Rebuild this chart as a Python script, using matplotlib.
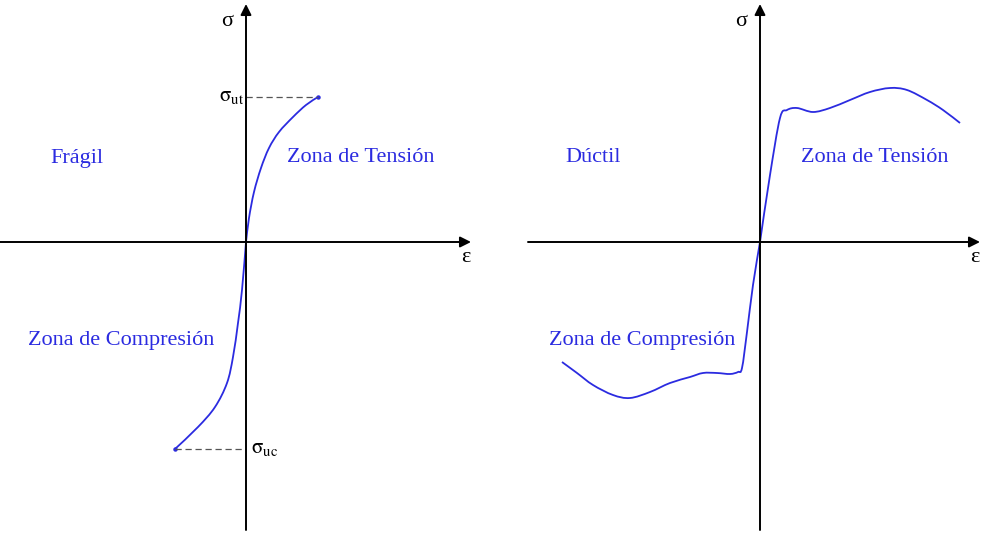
import numpy as np
import matplotlib.pyplot as plt
from matplotlib.path import Path
from matplotlib.patches import PathPatch

plt.rcParams['font.family'] = ['Liberation Serif', 'DejaVu Serif']
plt.rcParams['mathtext.fontset'] = 'stix'

# ==========================================
# Data (strain, stress)
# ==========================================
# Fragil material
frag_ten_eps = [0.0, 0.03, 0.08, 0.15, 0.23, 0.33, 0.47, 0.60, 0.72]
frag_ten_sig = [0.0, 0.24, 0.50, 0.74, 0.94, 1.10, 1.25, 1.37, 1.45]
frag_com_eps = [0.0, -0.04, -0.08, -0.13, -0.19, -0.31, -0.48, -0.71]
frag_com_sig = [0.0, -0.48, -0.81, -1.15, -1.41, -1.65, -1.85, -2.07]
sigma_ut = 1.45
sigma_uc = -2.07

# Ductil material
duct_ten_eps = [0.0, 0.10, 0.20, 0.27, 0.37, 0.53, 0.70, 0.90, 1.10, 1.30,
                1.47, 1.67, 1.83, 2.00]
duct_ten_sig = [0.0, 0.67, 1.24, 1.32, 1.34, 1.30, 1.34, 1.42, 1.50, 1.54,
                1.52, 1.42, 1.32, 1.19]
duct_com_eps = [0.0, -0.07, -0.13, -0.18, -0.22, -0.30, -0.43, -0.57, -0.70,
                -0.90, -1.10, -1.30, -1.47, -1.67, -1.83, -1.98]
duct_com_sig = [0.0, -0.43, -0.90, -1.26, -1.30, -1.32, -1.31, -1.31, -1.35,
                -1.41, -1.50, -1.56, -1.53, -1.43, -1.31, -1.20]

blue = '#2b2be0'
fs = 16

fig = plt.figure(figsize=(9.95, 5.34), dpi=100)
ax1 = fig.add_axes([0, 0, 490 / 995, 1])
ax2 = fig.add_axes([520 / 995, 0, 475 / 995, 1])


def smooth_curve(ax, xs, ys, **kw):
    # Catmull-Rom through the read points, drawn as cubic Bezier path
    p = np.column_stack([xs, ys])
    verts = [p[0]]
    codes = [Path.MOVETO]
    for i in range(len(p) - 1):
        p0 = p[i - 1] if i > 0 else p[i]
        p3 = p[i + 2] if i + 2 < len(p) else p[i + 1]
        c1 = p[i] + (p[i + 1] - p0) / 6
        c2 = p[i + 1] - (p3 - p[i]) / 6
        verts += [c1, c2, p[i + 1]]
        codes += [Path.CURVE4] * 3
    ax.add_patch(PathPatch(Path(verts, codes), fill=False, **kw))


def draw_axes(ax, xlim, x_end, x_start):
    ax.set_xlim(*xlim)
    ax.set_ylim(-2.92, 2.42)
    ax.axis('off')
    arrow = dict(arrowstyle='-|>', color='black', lw=1.4,
                 mutation_scale=16, shrinkA=0, shrinkB=0)
    ax.annotate('', xy=(x_end, 0), xytext=(x_start, 0), arrowprops=arrow)
    ax.annotate('', xy=(0, 2.38), xytext=(0, -2.88), arrowprops=arrow)
    ax.text(-0.13, 2.20, 'σ', fontsize=fs, ha='right', va='center')
    ax.text(x_end - 0.05, -0.16, 'ε', fontsize=fs, ha='center', va='center')


# ---- Left: Fragil ----
draw_axes(ax1, (-2.46, 2.44), 2.25, -2.46)
smooth_curve(ax1, frag_ten_eps, frag_ten_sig, color=blue, lw=1.3)
smooth_curve(ax1, frag_com_eps, frag_com_sig, color=blue, lw=1.3)
ax1.plot([frag_ten_eps[-1], frag_com_eps[-1]], [sigma_ut, sigma_uc], 'o',
         color=blue, ms=2.2)
ax1.plot([0, frag_ten_eps[-1]], [sigma_ut, sigma_ut], color='#555555',
         lw=0.9, dashes=(5, 3))
ax1.plot([frag_com_eps[-1], 0], [sigma_uc, sigma_uc], color='#555555',
         lw=0.9, dashes=(5, 3))
ax1.text(-0.02, sigma_ut, r'$\mathrm{σ_{ut}}$', fontsize=15,
         ha='right', va='center')
ax1.text(0.05, sigma_uc, r'$\mathrm{σ_{uc}}$', fontsize=15,
         ha='left', va='center')
ax1.text(-1.96, 0.84, 'Frágil', color=blue, fontsize=fs, va='center')
ax1.text(1.15, 0.84, 'Zona de Tensión', color=blue, fontsize=fs,
         ha='center', va='center')
ax1.text(-1.25, -0.99, 'Zona de Compresión', color=blue, fontsize=fs,
         ha='center', va='center')

# ---- Right: Ductil ----
draw_axes(ax2, (-2.40, 2.35), 2.20, -2.32)
smooth_curve(ax2, duct_ten_eps, duct_ten_sig, color=blue, lw=1.3)
smooth_curve(ax2, duct_com_eps, duct_com_sig, color=blue, lw=1.3)
ax2.text(-1.95, 0.84, 'Dúctil', color=blue, fontsize=fs, va='center')
ax2.text(1.15, 0.84, 'Zona de Tensión', color=blue, fontsize=fs,
         ha='center', va='center')
ax2.text(-1.18, -0.99, 'Zona de Compresión', color=blue, fontsize=fs,
         ha='center', va='center')

fig.savefig('out.png', dpi=100)
